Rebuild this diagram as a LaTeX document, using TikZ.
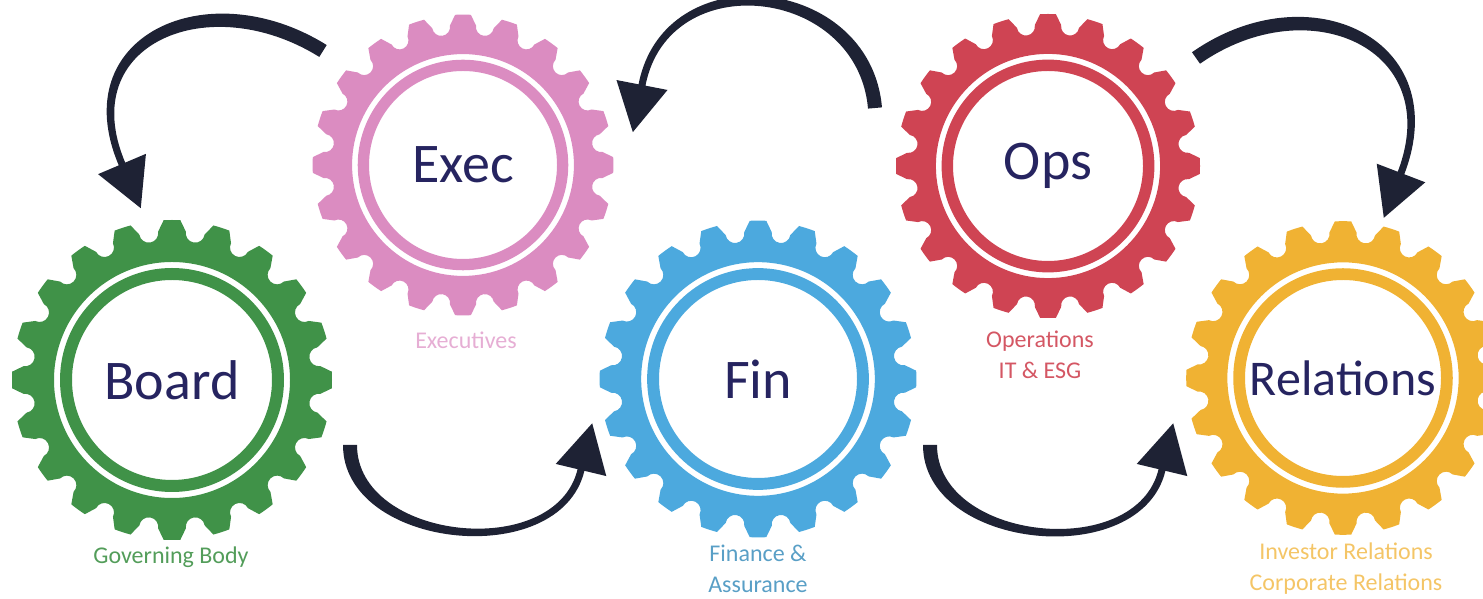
\documentclass[tikz,border=0pt]{standalone}
\usepackage{fontspec}
\setmainfont{Carlito}
\usetikzlibrary{calc}

\definecolor{boardgreen}{RGB}{64,146,72}
\definecolor{execpink}{RGB}{219,140,193}
\definecolor{finblue}{RGB}{76,169,222}
\definecolor{opsred}{RGB}{207,68,83}
\definecolor{relyellow}{RGB}{240,178,51}
\definecolor{labelink}{RGB}{38,36,96}
\definecolor{arrowink}{RGB}{30,34,52}

\tikzset{
  gearlabel/.style={text=labelink, font=\fontsize{56}{60}\selectfont},
  sublabel/.style={font=\fontsize{24}{31}\selectfont, align=center},
}

% cog wheel round a node: #1 node, #2 colour, #3 scale
\newcommand{\cog}[3]{%
  \begin{scope}[shift={(#1.center)}, scale=#3]
    \fill[#2, even odd rule] (87:160)
      foreach \t in {0,...,19}{
        arc[start angle={87+18*\t}, end angle={93+18*\t}, radius=160]
        -- ({95.35+18*\t}:149)
        arc[start angle={9+18*\t}, end angle={-171+18*\t}, radius=9.5]
        -- ({105+18*\t}:160)
      } -- cycle
      (0,0) circle[radius=118];
    \fill[#2, even odd rule] (0,0) circle[radius=112] (0,0) circle[radius=100];
  \end{scope}}

% bent arrow: #1 tail, #2 out, #3 head base, #4 in, #5 looseness
\newcommand{\curlarrow}[5]{%
  \fill[arrowink] ($(#1)+({#2-90}:7)$) to[out=#2, in=#4, looseness=#5]
    ($(#3)+({#4+90}:3.5)$) -- ($(#3)+({#4+90}:26)$) -- ($(#3)+({#4+180}:48)$)
    -- ($(#3)+({#4-90}:26)$) -- ($(#3)+({#4-90}:3.5)$)
    to[out=#4, in=#2, looseness=#5] ($(#1)+({#2+90}:7)$) -- cycle;}

\begin{document}
\begin{tikzpicture}[x=1pt, y=1pt]
  \useasboundingbox (0,0) rectangle (1483,599);
  \clip (0,0) rectangle (1483,599);

  % gear centres
  \coordinate (board) at (172,219);
  \coordinate (exec) at (463,434);
  \coordinate (fin) at (758,220);
  \coordinate (ops) at (1048,433);
  \coordinate (rel) at (1343,221);

  \cog{board}{boardgreen}{1}
  \cog{exec}{execpink}{0.94}
  \cog{fin}{finblue}{0.99}
  \cog{ops}{opsred}{0.95}
  \cog{rel}{relyellow}{0.98}

  \node[gearlabel] (boardtxt) at (board) {Board};
  \node[gearlabel] (exectxt) at (exec) {Exec};
  \node[gearlabel] (fintxt) at (fin) {Fin};
  \node[gearlabel] (opstxt) at (ops) {Ops};
  \node[gearlabel, font=\fontsize{50}{54}\selectfont] (reltxt) at (rel) {Relations};

  \node[sublabel, text=boardgreen!90] (boardsub) at (171,42) {Governing Body};
  \node[sublabel, text=execpink!70] (execsub) at (466,259) {Executives};
  \node[sublabel, text=finblue!75!gray] (finsub) at (758,30) {Finance \&\\Assurance};
  \node[sublabel, text=opsred!90] (opssub) at (1040,244) {Operations\\IT \& ESG};
  \node[sublabel, text=relyellow!75] (relsub) at (1346,30) {Investor Relations\\Corporate Relations};

  % arrow ends
  \coordinate (tA) at (323,548); \coordinate (hA) at (122,435);
  \coordinate (tB) at (875,491); \coordinate (hB) at (642,514);
  \coordinate (tC) at (1196,541); \coordinate (hC) at (1401,426);
  \coordinate (tD) at (350,154); \coordinate (hD) at (581,129);
  \coordinate (tE) at (930,154); \coordinate (hE) at (1162,129);

  \curlarrow{tA}{148}{hA}{113}{1.5}
  \curlarrow{tB}{95}{hB}{79}{1.4}
  \curlarrow{tC}{35}{hC}{69}{1.5}
  \curlarrow{tD}{270}{hD}{256.5}{1.1}
  \curlarrow{tE}{270}{hE}{256.5}{1.1}
\end{tikzpicture}
\end{document}
